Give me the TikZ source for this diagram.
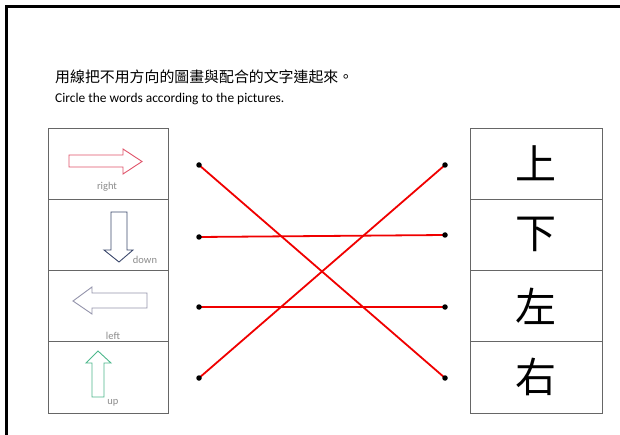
\documentclass[tikz,border=0pt]{standalone}
\usepackage{fontspec}
\setmainfont{Carlito}
\newfontfamily\cjk{Noto Sans CJK TC}
\definecolor{boxgray}{HTML}{666666}
\definecolor{sepgray}{HTML}{8A8A8A}
\definecolor{lblgray}{HTML}{8C8C8C}
\definecolor{arrred}{HTML}{E0546A}
\definecolor{arrnavy}{HTML}{3E4A6E}
\definecolor{arrgray}{HTML}{9494AC}
\definecolor{arrgreen}{HTML}{4DB88C}
\definecolor{linered}{HTML}{F00000}
\tikzset{
  cellL/.style={draw=boxgray, line width=0.9pt, minimum width=120pt, minimum height=71.25pt, inner sep=0pt, outer sep=0pt},
  cellR/.style={draw=boxgray, line width=0.9pt, minimum width=132pt, minimum height=71.25pt, inner sep=0pt, outer sep=0pt},
  lbl/.style={text=lblgray, font=\fontsize{10.5}{11}\selectfont, inner sep=0pt},
  bigchar/.style={font=\cjk\fontsize{41}{41}\selectfont, inner sep=0pt},
  arrowshape/.style={line width=0.9pt, line join=miter},
  match/.style={draw=linered, line width=1.8pt},
  dotmark/.style={circle, fill=black, inner sep=0pt, minimum size=5.5pt}
}
\begin{document}
\begin{tikzpicture}[x=1pt,y=-1pt]
\useasboundingbox (0,0) rectangle (620,435);
\clip (0,0) rectangle (620,435);
\fill[white] (0,0) rectangle (620,435);
% outer frame (top and left edges visible)
\draw[line width=2.4pt] (6.5,450) -- (6.5,6.5) -- (640,6.5);
% heading
\node[anchor=west, inner sep=0pt, font=\cjk\fontsize{14.9}{15}\selectfont] (title) at (55,77) {用線把不用方向的圖畫與配合的文字連起來。};
\node[anchor=west, inner sep=0pt, font=\fontsize{13.4}{14}\selectfont] (subtitle) at (55,99) {Circle the words according to the pictures.};
% left cells
\node[cellL] (L1) at (108,163.625) {};
\node[cellL] (L2) at (108,234.875) {};
\node[cellL] (L3) at (108,306.125) {};
\node[cellL] (L4) at (108,377.375) {};
% right cells
\node[cellR] (R1) at (536,163.625) {};
\node[cellR] (R2) at (536,234.875) {};
\node[cellR] (R3) at (536,306.125) {};
\node[cellR] (R4) at (536,377.375) {};
% arrows
\draw[arrowshape, draw=arrred] (69,155) -- (123,155) -- (123,149) -- (142,161.5) -- (123,174) -- (123,167) -- (69,167) -- cycle;
\draw[arrowshape, draw=arrnavy] (111,212) -- (127,212) -- (127,250) -- (133,250) -- (119,262) -- (104,250) -- (111,250) -- cycle;
\draw[arrowshape, draw=arrgray] (147,293) -- (92,293) -- (92,287) -- (73,301) -- (92,314) -- (92,308) -- (147,308) -- cycle;
\draw[arrowshape, draw=arrgreen] (92,397) -- (92,363) -- (86,363) -- (98,351) -- (111,363) -- (104,363) -- (104,397) -- cycle;
% labels
\node[lbl] (tright) at (107,187) {right};
\node[lbl] (tdown) at (145,260) {down};
\node[lbl] (tleft) at (113,336) {left};
\node[lbl] (tup) at (113,403) {up};
% characters
\node[bigchar] (c1) at (R1) {上};
\node[bigchar] (c2) at (R2) {下};
\node[bigchar] (c3) at (R3) {左};
\node[bigchar] (c4) at (R4) {右};
% connection points
\coordinate (a1) at (199,165);
\coordinate (a2) at (199,237);
\coordinate (a3) at (199,307);
\coordinate (a4) at (199,378);
\coordinate (b1) at (445,165);
\coordinate (b2) at (445,235);
\coordinate (b3) at (445,307);
\coordinate (b4) at (445,378);
\draw[match] (a1) -- (b4);
\draw[match] (a2) -- (b2);
\draw[match] (a3) -- (b3);
\draw[match] (a4) -- (b1);
\foreach \p in {a1,a2,a3,a4,b1,b2,b3,b4} \node[dotmark] at (\p) {};
\end{tikzpicture}
\end{document}
